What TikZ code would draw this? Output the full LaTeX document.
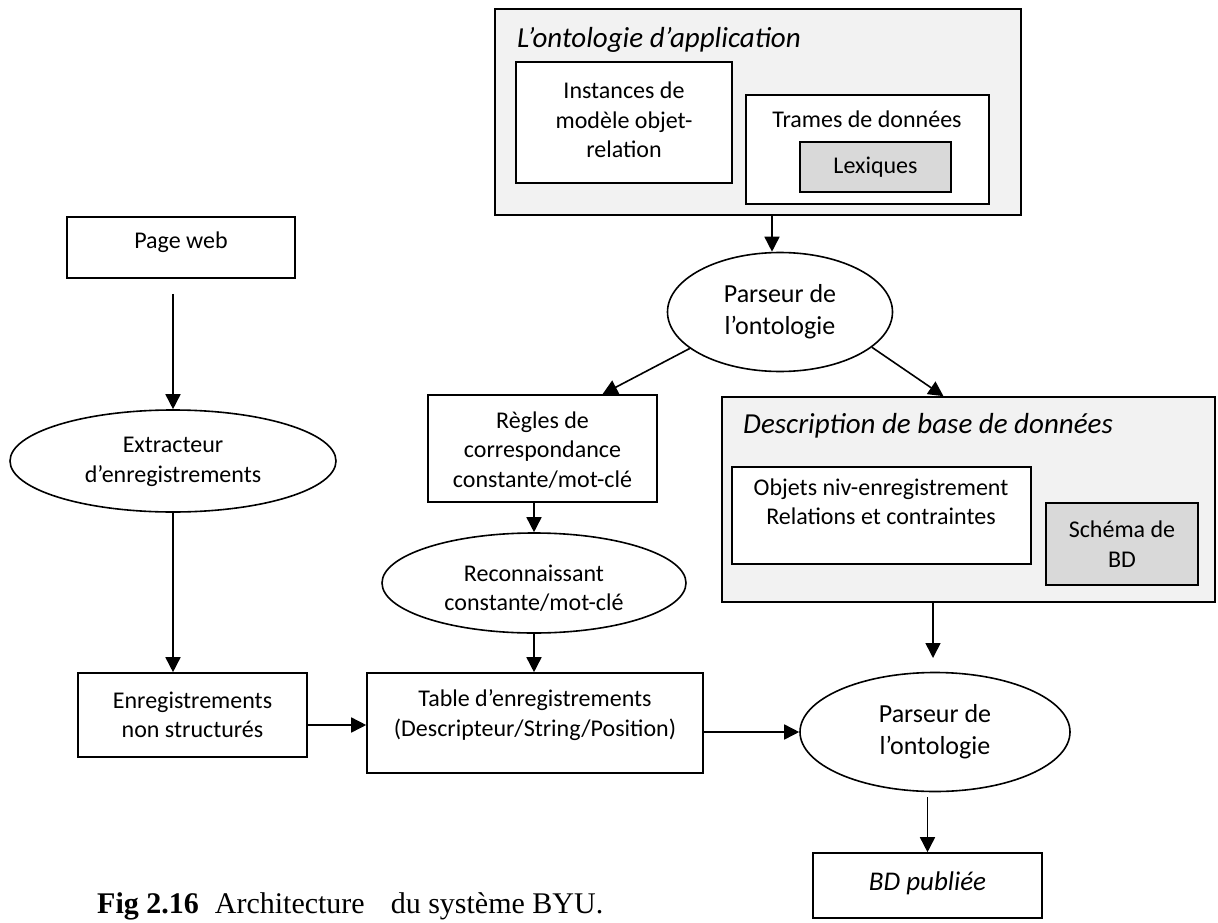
\documentclass[tikz,border=0pt]{standalone}
\usepackage{fontspec}
\setmainfont{Carlito}
\newfontfamily\capfont{Liberation Serif}
\usetikzlibrary{arrows.meta,shapes.geometric}

\definecolor{panelgray}{HTML}{F2F2F2}
\definecolor{innergray}{HTML}{D9D9D9}

\begin{document}
\begin{tikzpicture}[x=1pt,y=-1pt,
  box/.style={draw, rectangle, inner sep=0pt, line width=1.6pt},
  oval/.style={draw, ellipse, inner sep=0pt, line width=1.6pt},
  body/.style={font=\fontsize{24}{29.5}\selectfont, align=center, inner sep=0pt},
  big/.style={font=\fontsize{26}{32}\selectfont, align=center, inner sep=0pt},
  head/.style={font=\fontsize{29}{34}\selectfont\itshape, inner sep=0pt},
  flow/.style={-{Triangle[length=15pt,width=15pt]}, line width=1.6pt},
]
\useasboundingbox (0,0) rectangle (1218,923);

% --- application ontology panel
\node[box, fill=panelgray, minimum width=526pt, minimum height=206pt] (app) at (758,112) {};
\node[head, anchor=base west] (app-t) at (517,48) {L’ontologie d’application};
\node[box, fill=white, minimum width=216pt, minimum height=121pt] (inst) at (624,122.5) {};
\node[body] (inst-t) at (624,120) {Instances de\\modèle objet-\\relation};
\node[box, fill=white, minimum width=243pt, minimum height=109pt] (trames) at (867.5,149.5) {};
\node[body] (trames-t) at (867,119) {Trames de données};
\node[box, fill=innergray, minimum width=151pt, minimum height=50pt] (lex) at (875.5,167) {};
\node[body] (lex-t) at (875.5,167) {Lexiques};

% --- first ontology parser
\node[oval, minimum width=225pt, minimum height=119pt] (parse1) at (780,312) {};
\node[big] (parse1-t) at (780,312) {Parseur de\\l’ontologie};

% --- middle column
\node[box, minimum width=229pt, minimum height=107pt] (regles) at (542.5,448.5) {};
\node[body] (regles-t) at (542.5,450) {Règles de\\correspondance\\constante/mot-clé};
\node[oval, minimum width=304pt, minimum height=100pt] (recon) at (534,583) {};
\node[body] (recon-t) at (534,588) {Reconnaissant\\constante/mot-clé};
\node[box, minimum width=336pt, minimum height=100pt] (table) at (535,723) {};
\node[body] (table-t) at (535,715) {Table d’enregistrements\\(Descripteur/String/Position)};

% --- database description panel
\node[box, fill=panelgray, minimum width=493pt, minimum height=205pt] (desc) at (968.5,499.5) {};
\node[head, anchor=base west] (desc-t) at (743,433) {Description de base de données};
\node[box, fill=white, minimum width=299pt, minimum height=97pt] (objets) at (881.5,515.5) {};
\node[body] (objets-t) at (881,502) {Objets niv-enregistrement\\Relations et contraintes};
\node[box, fill=innergray, minimum width=152pt, minimum height=82pt] (schema) at (1122,544) {};
\node[body] (schema-t) at (1122,544) {Schéma de\\BD};

% --- second ontology parser and output
\node[oval, minimum width=270pt, minimum height=119pt] (parse2) at (935,732) {};
\node[big] (parse2-t) at (935,732) {Parseur de\\l’ontologie};
\node[box, minimum width=229pt, minimum height=65pt] (bd) at (927.5,885.5) {};
\node[font=\fontsize{27}{32}\selectfont\itshape, inner sep=0pt] (bd-t) at (927.5,883) {BD publiée};

% --- left column
\node[box, minimum width=228pt, minimum height=61pt] (page) at (181,247.5) {};
\node[body] (page-t) at (181,242) {Page web};
\node[oval, minimum width=326pt, minimum height=102pt] (extr) at (173,461) {};
\node[body] (extr-t) at (173,462) {Extracteur\\d’enregistrements};
\node[box, minimum width=229pt, minimum height=84pt] (enr) at (192.5,715) {};
\node[body] (enr-t) at (192.5,715) {Enregistrements\\non structurés};

% --- connectors
\coordinate (a1) at (772,0);
\draw[flow] (app.south -| a1) -- (parse1.north -| a1);
\draw[flow] (parse1.202) -- ([xshift=60pt]regles.north);
\draw[flow] (parse1.339) -- ([xshift=-25pt]desc.north);
\draw[flow] (regles.south -| recon.north) -- (recon.north);
\draw[flow] (recon.south) -- (recon.south |- table.north);
\coordinate (d2) at (933,658);
\draw[flow] (desc.south -| d2) -- (d2);
\draw[flow] (table.east |- parse2.west) -- (parse2.west);
\draw[flow] ([yshift=-5pt]parse2.south -| bd.north) -- (bd.north);
\draw[flow] ([yshift=-15pt]page.south -| extr.north) -- (extr.north);
\draw[flow] (extr.south) -- (extr.south |- enr.north);
\draw[flow] ([yshift=-10pt]enr.east) -- ([yshift=-10pt]enr.east -| table.west);

% --- caption
\node[anchor=base west, inner sep=0pt, font=\capfont\fontsize{30}{36}\selectfont] (caption) at (97,913)
  {\textbf{Fig 2.16}\hspace{16pt}Architecture\hspace{26pt}du système BYU.};
\end{tikzpicture}
\end{document}
